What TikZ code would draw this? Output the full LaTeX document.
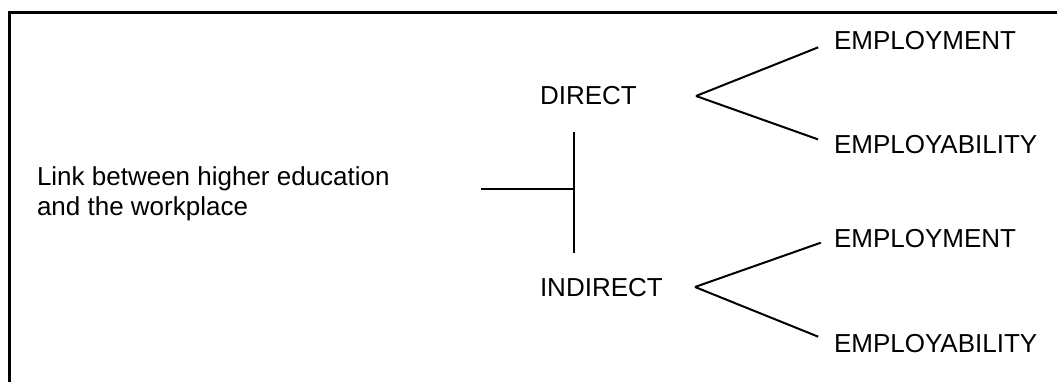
\documentclass[tikz,border=0pt]{standalone}
\usepackage{fontspec}
\setmainfont{Liberation Sans}
\usetikzlibrary{positioning}

\tikzset{
    lbl/.style={inner sep=0pt, outer sep=0pt, anchor=base west, font=\fontsize{26}{30}\selectfont},
    link/.style={line width=2pt}
}

\begin{document}
\begin{tikzpicture}[x=1pt, y=-1pt]
    \useasboundingbox (0,0) rectangle (1057,382);
    % Frame
    \draw[line width=3pt] (9,382) -- (9,13) -- (1057,13);

    % Labels
    \node[lbl, align=left] (linkTxt) at (37,215) {Link between higher education\\and the workplace};
    \node[lbl] (direct) at (540,105) {DIRECT};
    \node[lbl] (indirect) at (540,296) {INDIRECT};
    \node[lbl] (emp1) at (834,50) {EMPLOYMENT};
    \node[lbl] (empab1) at (834,154) {EMPLOYABILITY};
    \node[lbl] (emp2) at (834,247) {EMPLOYMENT};
    \node[lbl] (empab2) at (834,352) {EMPLOYABILITY};

    % Branch points
    \coordinate (linkEnd) at (481,189);
    \coordinate (joint) at (574,189);
    \coordinate (barTop) at (574,132);
    \coordinate (barBot) at (574,253);
    \coordinate (tipA) at (696,96);
    \coordinate (tipB) at (695,287);

    % Lines
    \draw[link] (linkEnd) -- (joint);
    \draw[link] (barTop) -- (barBot);
    \draw[link, shorten >=17pt] (tipA) -- (emp1.west);
    \draw[link, shorten >=17pt] (tipA) -- (empab1.west);
    \draw[link, shorten >=14pt] (tipB) -- (emp2.west);
    \draw[link, shorten >=17pt] (tipB) -- (empab2.west);
\end{tikzpicture}
\end{document}
